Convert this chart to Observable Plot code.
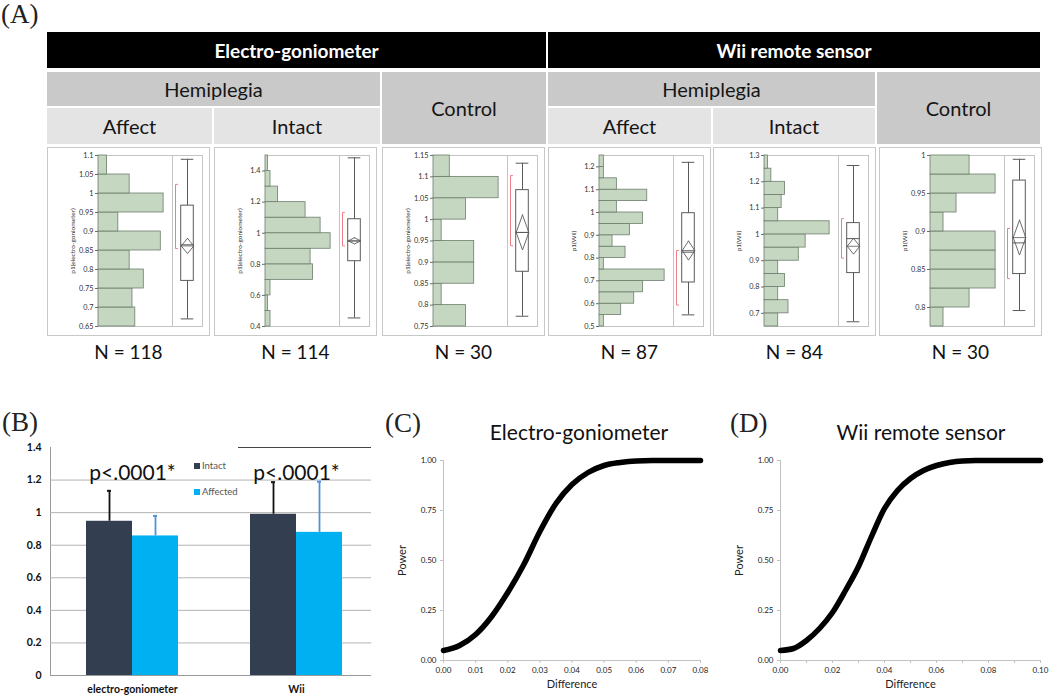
<!DOCTYPE html>
<html><head><meta charset="utf-8">
<script src="https://cdn.jsdelivr.net/npm/d3@7"></script>
<script src="https://cdn.jsdelivr.net/npm/@observablehq/plot@0.6"></script>
<style>
body{margin:0;background:#fff;}
#root{position:relative;width:1050px;height:700px;overflow:hidden;font-family:Lato,"Open Sans",sans-serif;color:#111;background:#fff;}
#root svg{max-width:none;}
.pb,.pc{position:absolute;}
.cell{position:absolute;display:flex;align-items:center;justify-content:center;box-sizing:border-box;white-space:nowrap;}
.plab{position:absolute;font-family:"Liberation Serif","DejaVu Serif",serif;font-size:27px;line-height:27px;color:#222;}
.panel{position:absolute;top:147px;height:189px;box-sizing:border-box;border:1px solid #c8c8c8;background:#fff;}
.panel svg{position:absolute;top:0;}
.panel text{fill:#333;}
.panel g[aria-label="y-axis label"] text{font-size:6.5px;}
.nlab{position:absolute;top:340px;width:163px;text-align:center;font-size:19px;color:#111;}
.pc text{fill:#222;}
.pc g[aria-label="x-axis label"] text,.pc g[aria-label="y-axis label"] text{font-size:11px;}
.pb text{fill:#111;}
.ttl{position:absolute;font-size:21px;color:#111;white-space:nowrap;transform:translateX(-50%);}
.leg{position:absolute;font-size:9.5px;color:#555;display:flex;align-items:center;}
.leg span.sw{display:inline-block;width:6px;height:6px;margin-right:2px;}
</style>
</head><body><div id="root"></div>
<script>
// ---------------- DATA ----------------
const sensors = ["Electro-goniometer", "Wii remote sensor"];
const groupNames = ["Hemiplegia", "Control"];
const sideNames = ["Affect", "Intact"];
const nValues = [118, 114, 30, 87, 84, 30];
const yLabels = ["p1(electro-goniometer)", "p1(electro-goniometer)", "p1(electro-goniometer)", "p1(Wii)", "p1(Wii)", "p1(Wii)"];

// histogram bins (edges bottom->top) and counts
const egAffectEdges = [0.65,0.70,0.75,0.80,0.85,0.90,0.95,1.00,1.05,1.10];
const egAffectCounts = [13,12,16,11,22,7,23,11,3];
const egAffectTicks = [0.65,0.7,0.75,0.8,0.85,0.9,0.95,1,1.05,1.1];
const egAffectBox = [0.67,0.77,0.865,0.968,1.09];      // min, q1, median, q3, max
const egAffectMean = [0.862,0.02];                     // mean, CI half-width
const egAffectShortest = [0.855,1.024];

const egIntactEdges = [0.4,0.5,0.6,0.7,0.8,0.9,1.0,1.1,1.2,1.3,1.4,1.5];
const egIntactCounts = [2,1,2,19,18,26,22,16,5,2,1];
const egIntactTicks = [0.4,0.6,0.8,1,1.2,1.4];
const egIntactBox = [0.455,0.82,0.95,1.09,1.485];
const egIntactMean = [0.951,0.02];
const egIntactShortest = [0.918,1.134];

const egControlEdges = [0.75,0.80,0.85,0.90,0.95,1.00,1.05,1.10,1.15];
const egControlCounts = [4,1,5,5,1,4,8,2];
const egControlTicks = [0.75,0.8,0.85,0.9,0.95,1,1.05,1.1,1.15];
const egControlBox = [0.774,0.878,0.97,1.069,1.132];
const egControlMean = [0.97,0.041];
const egControlShortest = [0.939,1.103];

const wiiAffectEdges = [0.5,0.55,0.6,0.65,0.7,0.75,0.8,0.85,0.9,0.95,1.0,1.05,1.1,1.15,1.2,1.25];
const wiiAffectCounts = [1,5,8,10,15,1,6,3,7,10,4,11,4,1,1];
const wiiAffectTicks = [0.5,0.6,0.7,0.8,0.9,1,1.1,1.2];
const wiiAffectBox = [0.551,0.693,0.826,0.997,1.22];
const wiiAffectMean = [0.833,0.042];
const wiiAffectShortest = [0.594,0.833];

const wiiIntactEdges = [0.65,0.7,0.75,0.8,0.85,0.9,0.95,1.0,1.05,1.1,1.15,1.2,1.25,1.3];
const wiiIntactCounts = [4,7,4,6,4,10,12,19,4,5,6,2,1];
const wiiIntactTicks = [0.7,0.8,0.9,1,1.1,1.2,1.3];
const wiiIntactBox = [0.668,0.853,0.984,1.043,1.262];
const wiiIntactMean = [0.955,0.03];
const wiiIntactShortest = [0.91,1.06];

const wiiControlEdges = [0.775,0.8,0.825,0.85,0.875,0.9,0.925,0.95,0.975,1.0];
const wiiControlCounts = [1,3,5,5,5,1,2,5,3];
const wiiControlTicks = [0.8,0.85,0.9,0.95,1];
const wiiControlBox = [0.796,0.844,0.885,0.967,0.995];
const wiiControlMean = [0.892,0.023];
const wiiControlShortest = [0.838,0.904];

// panel B
const bInstruments = ["electro-goniometer", "Wii"];
const bSides = ["Intact", "Affected"];
const bIntactMean = [0.947, 0.99];
const bAffectedMean = [0.857, 0.879];
const bIntactErr = [0.187, 0.197];
const bAffectedErr = [0.123, 0.311];
const bPLabels = ["p<.0001*", "p<.0001*"];
const bTicks = [0, 0.2, 0.4, 0.6, 0.8, 1, 1.2, 1.4];

// panels C and D (power curves)
const powerTicks = [0, 0.25, 0.5, 0.75, 1];
const cDiff = [0,0.005,0.01,0.015,0.02,0.025,0.03,0.035,0.04,0.045,0.05,0.055,0.06,0.065,0.07,0.075,0.08];
const cPower = [0.05,0.075,0.13,0.22,0.34,0.48,0.645,0.785,0.88,0.94,0.975,0.99,0.998,1,1,1,1];
const cTicks = [0,0.01,0.02,0.03,0.04,0.05,0.06,0.07,0.08];
const dDiff = [0,0.005,0.01,0.015,0.02,0.025,0.03,0.035,0.04,0.045,0.05,0.055,0.06,0.065,0.07,0.075,0.08,0.09,0.1];
const dPower = [0.05,0.06,0.1,0.16,0.24,0.35,0.47,0.62,0.76,0.85,0.91,0.95,0.975,0.99,0.998,1,1,1,1];
const dTicks = [0,0.01,0.02,0.03,0.04,0.05,0.06,0.07,0.08,0.09,0.1];

// ---------------- LAYOUT ----------------
const root = document.getElementById("root");
function el(tag, cls, css, html) {
  const e = document.createElement(tag);
  if (cls) e.className = cls;
  Object.assign(e.style, css || {});
  if (html != null) e.textContent = html;
  root.appendChild(e);
  return e;
}
const px = v => v + "px";

// panel labels
el("div","plab",{left:"1px",top:"1px"},"(A)");
el("div","plab",{left:"2px",top:"409px"},"(B)");
el("div","plab",{left:"385px",top:"410px"},"(C)");
el("div","plab",{left:"730px",top:"410px"},"(D)");

// header table
const sensorSpans = [[47,546],[548,1040]];
sensors.forEach((s,i) => {
  const [a,b] = sensorSpans[i];
  el("div","cell",{left:px(a),top:"32px",width:px(b-a),height:"36px",background:"#000",color:"#fff",fontWeight:"bold",fontSize:"19px"},s);
  const hemiEnd = i===0 ? 380 : 875;
  el("div","cell",{left:px(a),top:"72px",width:px(hemiEnd-a),height:"34px",background:"#c9c9c9",fontSize:"20px",color:"#151515"},groupNames[0]);
  el("div","cell",{left:px(hemiEnd+2),top:"72px",width:px(b-hemiEnd-2),height:"72px",background:"#c9c9c9",fontSize:"20px",color:"#151515"},groupNames[1]);
  const mid = i===0 ? 212 : 711;
  el("div","cell",{left:px(a),top:"108px",width:px(mid-a),height:"36px",background:"#e4e4e4",fontSize:"20px",color:"#151515"},sideNames[0]);
  el("div","cell",{left:px(mid+2),top:"108px",width:px(hemiEnd-mid-2),height:"36px",background:"#e4e4e4",fontSize:"20px",color:"#151515"},sideNames[1]);
});

// histogram panels
const panelData = [
  {edges:egAffectEdges,counts:egAffectCounts,ticks:egAffectTicks,box:egAffectBox,mean:egAffectMean,shortest:egAffectShortest},
  {edges:egIntactEdges,counts:egIntactCounts,ticks:egIntactTicks,box:egIntactBox,mean:egIntactMean,shortest:egIntactShortest},
  {edges:egControlEdges,counts:egControlCounts,ticks:egControlTicks,box:egControlBox,mean:egControlMean,shortest:egControlShortest},
  {edges:wiiAffectEdges,counts:wiiAffectCounts,ticks:wiiAffectTicks,box:wiiAffectBox,mean:wiiAffectMean,shortest:wiiAffectShortest},
  {edges:wiiIntactEdges,counts:wiiIntactCounts,ticks:wiiIntactTicks,box:wiiIntactBox,mean:wiiIntactMean,shortest:wiiIntactShortest},
  {edges:wiiControlEdges,counts:wiiControlCounts,ticks:wiiControlTicks,box:wiiControlBox,mean:wiiControlMean,shortest:wiiControlShortest}
];
const panelLefts = [47, 214, 382, 548, 713, 879];
const fmtTrim = d => String(+d.toFixed(3));
const BOX_HW = 0.42, DIA_HW = 0.42, BR_X = -0.8, BR_T = 0.14;
const boxStroke = "#5a5a5a";

panelData.forEach((p, i) => {
  const div = el("div","panel",{left:px(panelLefts[i]),width:"163px"});
  const bins = p.counts.map((c,j) => ({lo:p.edges[j], hi:p.edges[j+1], count:c}));
  const domain = [p.edges[0], p.edges[p.edges.length-1]];
  const maxC = d3.max(p.counts);
  const hist = Plot.plot({
    width: 124, height: 187, marginLeft: 50, marginRight: 0, marginTop: 7, marginBottom: 9,
    style: {fontFamily: "Lato, sans-serif", fontSize: "7.3px", color: "#6a6a6a", background: "transparent", overflow: "visible"},
    x: {domain: [0, maxC / 0.88], axis: null},
    y: {domain, ticks: p.ticks, tickFormat: fmtTrim, tickSize: 3, tickPadding: 2, line: true,
        label: yLabels[i], labelAnchor: "center", labelOffset: 28, labelArrow: "none"},
    marks: [
      Plot.frame({stroke: "#c4c4c4"}),
      Plot.rect(bins, {x1: 0, x2: "count", y1: "lo", y2: "hi", fill: "#c5d6c1", stroke: "#6c7e6c", strokeWidth: 0.8})
    ]
  });
  hist.style.left = "0px";
  div.appendChild(hist);

  const [mn,q1,med,q3,mx] = p.box;
  const [mean,ci] = p.mean;
  const [lo,hi] = p.shortest;
  const s = {mn,q1,med,q3,mx,mean,ci,lo,hi};
  const diamond = [{x:0,y:mean+ci},{x:DIA_HW,y:mean},{x:0,y:mean-ci},{x:-DIA_HW,y:mean},{x:0,y:mean+ci}];
  const bracket = [{x:BR_X+BR_T,y:hi},{x:BR_X,y:hi},{x:BR_X,y:lo},{x:BR_X+BR_T,y:lo}];
  const box = Plot.plot({
    width: 30, height: 187, marginLeft: 0, marginRight: 0, marginTop: 7, marginBottom: 9,
    style: {background: "transparent", overflow: "visible"},
    x: {domain: [-1, 1], axis: null},
    y: {domain, axis: null},
    marks: [
      Plot.frame({stroke: "#c4c4c4"}),
      Plot.ruleX([s], {x: 0, y1: "mn", y2: "mx", stroke: boxStroke}),
      Plot.ruleY([s], {y: "mn", x1: -BOX_HW, x2: BOX_HW, stroke: boxStroke}),
      Plot.ruleY([s], {y: "mx", x1: -BOX_HW, x2: BOX_HW, stroke: boxStroke}),
      Plot.rect([s], {x1: -BOX_HW, x2: BOX_HW, y1: "q1", y2: "q3", fill: "#fff", stroke: boxStroke}),
      Plot.ruleY([s], {y: "med", x1: -BOX_HW, x2: BOX_HW, stroke: boxStroke}),
      Plot.line(diamond, {x: "x", y: "y", stroke: boxStroke, strokeWidth: 0.9}),
      Plot.ruleY([s], {y: "mean", x1: -DIA_HW, x2: DIA_HW, stroke: boxStroke, strokeWidth: 0.8}),
      Plot.line(bracket, {x: "x", y: "y", stroke: "#ee7f88", strokeWidth: 1})
    ]
  });
  box.style.left = "124px";
  div.appendChild(box);

  el("div","nlab",{left:px(panelLefts[i])},"N = " + nValues[i]);
});

// ---------------- PANEL B ----------------
const bRows = bInstruments.flatMap((ins, i) => [
  {instrument: ins, side: bSides[0], mean: bIntactMean[i], err: bIntactErr[i]},
  {instrument: ins, side: bSides[1], mean: bAffectedMean[i], err: bAffectedErr[i]}
]);
const bP = bInstruments.map((ins, i) => ({instrument: ins, p: bPLabels[i]}));
const intactColor = "#333e50", affectedColor = "#00b0f0";
const bWrap = el("div","pb",{left:"0px",top:"437px",width:"371px",height:"263px",overflow:"hidden"});
const bPlot = Plot.plot({
  width: 378, height: 263, marginLeft: 50, marginRight: 0, marginTop: 10, marginBottom: 25,
  style: {fontFamily: "Lato, sans-serif", fontSize: "10.5px", fontWeight: "bold", color: "#9a9a9a", background: "transparent"},
  fx: {domain: bInstruments, padding: 0, axis: "bottom", tickSize: 0, tickPadding: 10, label: null},
  x: {domain: bSides, paddingInner: 0, paddingOuter: 0.745, axis: null},
  y: {domain: [0, 1.4], ticks: bTicks, tickFormat: fmtTrim, tickSize: 0, tickPadding: 9, line: true, label: null},
  color: {domain: bSides, range: [intactColor, affectedColor]},
  marks: [
    Plot.ruleY(bTicks.filter(t => t > 0 && t < 1.4), {stroke: "#b3b3b3"}),
    Plot.ruleY(bP.filter(d => d.instrument === "Wii"), {fx: "instrument", y: () => 1.4, stroke: "#444", insetLeft: 24, insetRight: 6}),
    Plot.barY(bRows, {fx: "instrument", x: "side", y: "mean", fill: "side"}),
    Plot.ruleX(bRows, {filter: d => d.side === "Intact", fx: "instrument", x: "side", y1: "mean", y2: d => d.mean + d.err, stroke: "#111", strokeWidth: 1.8}),
    Plot.tickY(bRows, {filter: d => d.side === "Intact", fx: "instrument", x: "side", y: d => d.mean + d.err, stroke: "#111", strokeWidth: 2, insetLeft: 21, insetRight: 21}),
    Plot.ruleX(bRows, {filter: d => d.side === "Affected", fx: "instrument", x: "side", y1: "mean", y2: d => d.mean + d.err, stroke: "#4f92d8", strokeWidth: 1.8}),
    Plot.tickY(bRows, {filter: d => d.side === "Affected", fx: "instrument", x: "side", y: d => d.mean + d.err, stroke: "#4f92d8", strokeWidth: 2, insetLeft: 21, insetRight: 21}),
    Plot.ruleY([0], {stroke: "#9a9a9a"}),
    Plot.text(bP, {fx: "instrument", text: "p", frameAnchor: "top", dy: 18, fontSize: 21, fontWeight: "normal", fill: "#000"})
  ]
});
bWrap.appendChild(bPlot);
// legend for B
const legRows = [[bSides[0], intactColor, 460], [bSides[1], affectedColor, 486]];
legRows.forEach(([name, col, top]) => {
  const lg = el("div","leg",{left:"194px",top:px(top)});
  const sw = document.createElement("span"); sw.className = "sw"; sw.style.background = col;
  lg.appendChild(sw);
  lg.appendChild(document.createTextNode(name));
});

// ---------------- PANELS C & D ----------------
function powerPlot(diff, power, ticks, labelEvery, left, width, marginLeft) {
  const pts = diff.map((d, i) => ({d, p: power[i]}));
  const f = d3.format(".2f");
  const wrap = el("div","pc",{left:px(left),top:"445px",width:px(width),height:"255px"});
  const svg = Plot.plot({
    width, height: 255, marginLeft, marginRight: 10, marginTop: 15, marginBottom: 40,
    style: {fontFamily: "Lato, sans-serif", fontSize: "8px", color: "#c2c2c2", background: "transparent", overflow: "visible"},
    x: {domain: [0, ticks[ticks.length-1]], ticks, tickFormat: (d, i) => (Math.round(d * 100) % labelEvery === 0 ? f(d) : ""),
        tickSize: 3, tickPadding: 4, line: true, label: "Difference", labelAnchor: "center", labelOffset: 27, labelArrow: "none"},
    y: {domain: [0, 1], ticks: powerTicks, tickFormat: f, tickSize: 3, tickPadding: 4, line: true,
        label: "Power", labelAnchor: "center", labelOffset: 45, labelArrow: "none"},
    marks: [
      Plot.line(pts, {x: "d", y: "p", stroke: "#000", strokeWidth: 5.5, curve: "monotone-x"})
    ]
  });
  wrap.appendChild(svg);
}
powerPlot(cDiff, cPower, cTicks, 1, 380, 330, 63);
powerPlot(dDiff, dPower, dTicks, 2, 710, 340, 70);
el("div","ttl",{left:"579px",top:"419px"},"Electro-goniometer");
el("div","ttl",{left:"921px",top:"419px"},"Wii remote sensor");
</script>
</body></html>
